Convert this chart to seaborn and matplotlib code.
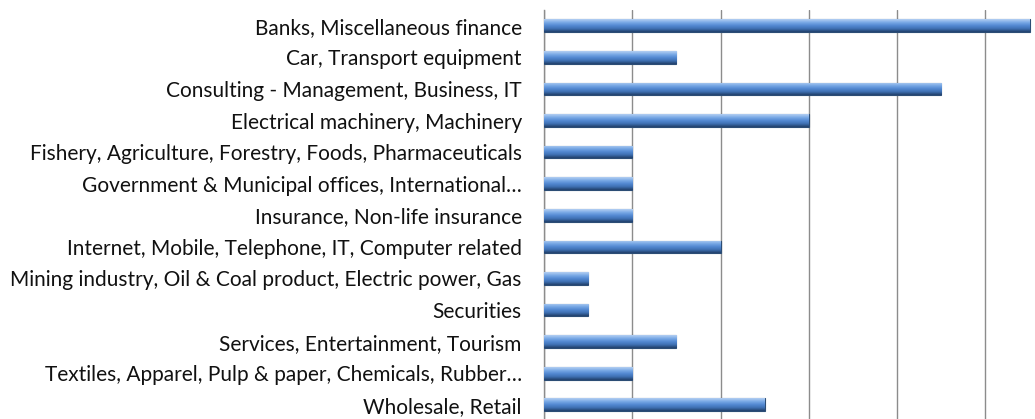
import numpy as np
import matplotlib
matplotlib.use("Agg")
import matplotlib.pyplot as plt
import seaborn as sns
from matplotlib.colors import LinearSegmentedColormap

# data
sectors = [
    "Banks, Miscellaneous finance",
    "Car, Transport equipment",
    "Consulting - Management, Business, IT",
    "Electrical machinery, Machinery",
    "Fishery, Agriculture, Forestry, Foods, Pharmaceuticals",
    "Government & Municipal offices, International…",
    "Insurance, Non-life insurance",
    "Internet, Mobile, Telephone, IT, Computer related",
    "Mining industry, Oil & Coal product, Electric power, Gas",
    "Securities",
    "Services, Entertainment, Tourism",
    "Textiles, Apparel, Pulp & paper, Chemicals, Rubber…",
    "Wholesale, Retail",
]
counts = [11, 3, 9, 6, 2, 2, 2, 4, 1, 1, 3, 2, 5]

sns.set_style("white")
plt.rcParams["font.family"] = ["Lato", "DejaVu Sans"]

fig = plt.figure(figsize=(10.35, 4.19), dpi=100)
ax = fig.add_axes([544 / 1035, 0.0, 1 - 544 / 1035, 1 - 10 / 419])

sns.barplot(x=counts, y=sectors, orient="h", color="#4f81bd", width=0.4,
            edgecolor="#2c4d75", linewidth=0.8, ax=ax, zorder=3)

# bevelled blue look: gradient clipped to each bar
cmap = LinearSegmentedColormap.from_list(
    "bevel", ["#b5d0f2", "#7aaae6", "#5389d2", "#3f70b3", "#203f69"])
grad = np.linspace(0, 1, 64).reshape(-1, 1)
for p in ax.patches:
    x0, y0 = p.get_x(), p.get_y()
    w, h = p.get_width(), p.get_height()
    im = ax.imshow(grad, cmap=cmap, aspect="auto", interpolation="bicubic",
                   extent=(x0, x0 + w, y0 + h, y0), zorder=3.5)
    im.set_clip_path(p)

ax.set_xlim(0, 491 / 44.15)
ax.set_ylim(12.45, -0.5)
ax.set_xticks(np.arange(0, 12, 2))
ax.tick_params(axis="x", length=0, labelbottom=False)
ax.tick_params(axis="y", length=0, pad=16, labelsize=15, labelcolor="#111111")
ax.xaxis.grid(True, color="#8c8c8c", linewidth=1.0, zorder=0)
ax.set_axisbelow(True)
for s in ["top", "right", "bottom"]:
    ax.spines[s].set_visible(False)
ax.spines["left"].set_color("#8c8c8c")
ax.spines["left"].set_linewidth(1.0)
ax.set_xlabel("")
ax.set_ylabel("")

fig.savefig("out.png", dpi=100)
